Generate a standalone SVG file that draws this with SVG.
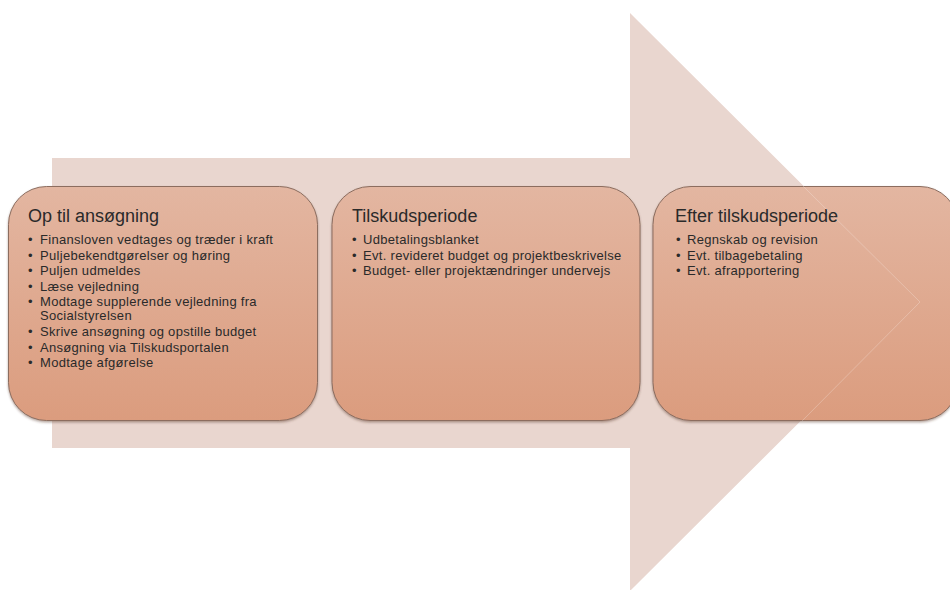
<svg xmlns="http://www.w3.org/2000/svg" width="950" height="590" viewBox="0 0 950 590">
<defs>
<linearGradient id="boxg" x1="0" y1="0" x2="0" y2="1">
<stop offset="0" stop-color="#e3b6a1"/>
<stop offset="1" stop-color="#db9c7e"/>
</linearGradient>
<filter id="sh" x="-5%" y="-5%" width="110%" height="115%">
<feDropShadow dx="0" dy="1.5" stdDeviation="1.2" flood-color="#5a3a2c" flood-opacity="0.45"/>
</filter>
</defs>
<style>
.box{fill:url(#boxg);stroke:#8c6d5f;stroke-width:1;filter:url(#sh)}
.title{font-family:"Liberation Sans",Arial,sans-serif;font-size:18px;fill:#2a2a2a}
.item{font-family:"Liberation Sans",Arial,sans-serif;font-size:13px;letter-spacing:0.3px;fill:#2a2a2a}
</style>
<rect width="950" height="590" fill="#ffffff"/>
<g id="arrow">
<polygon points="52,158 630,158 630,13 920,302 630,591 630,448 52,448" fill="#e9d6cf"/>
</g>
<g id="box1">
<rect class="box" x="8.5" y="186.5" width="309" height="234" rx="38" ry="38"/>
<text class="title" x="28" y="222">Op til ansøgning</text>
<g class="item">
<text x="28" y="244">•</text><text x="40" y="244">Finansloven vedtages og træder i kraft</text>
<text x="28" y="259.5">•</text><text x="40" y="259.5">Puljebekendtgørelser og høring</text>
<text x="28" y="275">•</text><text x="40" y="275">Puljen udmeldes</text>
<text x="28" y="290.5">•</text><text x="40" y="290.5">Læse vejledning</text>
<text x="28" y="306">•</text><text x="40" y="306">Modtage supplerende vejledning fra</text>
<text x="40" y="320">Socialstyrelsen</text>
<text x="28" y="336">•</text><text x="40" y="336">Skrive ansøgning og opstille budget</text>
<text x="28" y="351.5">•</text><text x="40" y="351.5">Ansøgning via Tilskudsportalen</text>
<text x="28" y="367">•</text><text x="40" y="367">Modtage afgørelse</text>
</g>
</g>
<g id="box2">
<rect class="box" x="332" y="186.5" width="308" height="234" rx="38" ry="38"/>
<text class="title" x="352" y="222">Tilskudsperiode</text>
<g class="item">
<text x="352" y="244">•</text><text x="363" y="244">Udbetalingsblanket</text>
<text x="352" y="259.5">•</text><text x="363" y="259.5">Evt. revideret budget og projektbeskrivelse</text>
<text x="352" y="275">•</text><text x="363" y="275">Budget- eller projektændringer undervejs</text>
</g>
</g>
<g id="box3">
<rect class="box" x="653" y="186.5" width="305" height="234" rx="38" ry="38"/>
<text class="title" x="675" y="222">Efter tilskudsperiode</text>
<g class="item">
<text x="676" y="244">•</text><text x="687" y="244">Regnskab og revision</text>
<text x="676" y="259.5">•</text><text x="687" y="259.5">Evt. tilbagebetaling</text>
<text x="676" y="275">•</text><text x="687" y="275">Evt. afrapportering</text>
</g>
</g>
<g id="connectors">
<polyline points="803,186 920,302 802,421" fill="none" stroke="#ffffff" stroke-opacity="0.3" stroke-width="0.8"/>
</g>
</svg>
